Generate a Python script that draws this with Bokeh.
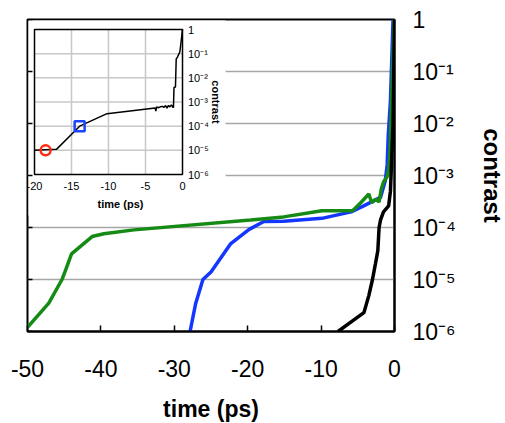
import numpy as np
from bokeh.plotting import figure
from bokeh.models import Range1d, LogScale, FixedTicker
from bokeh.core.properties import value
from bokeh.embed import file_html
from bokeh.resources import INLINE

# ---------------- data ----------------
green_t = [-50, -47.1, -45.3, -44.9, -44.0, -41.2, -39.6, -35.5, -19.6, -15.1, -9.9, -5.7,
           -4.6, -3.5, -3.1, -2.6, -2.1, -1.8, -1.5, -1.0, -0.8, -0.65, -0.05]
green_c = [1.2e-6, 3.5e-6, 1.0e-5, 1.4e-5, 3.1e-5, 6.7e-5, 7.6e-5, 9.0e-5, 1.4e-4, 1.6e-4, 2.1e-4, 2.1e-4,
           3.0e-4, 4.4e-4, 3.0e-4, 3.5e-4, 3.1e-4, 5.5e-4, 7.5e-4, 9.5e-4, 1.3e-3, 2.2e-3, 1.0]

blue_t = [-27.85, -27.1, -26.1, -25.0, -22.3, -19.8, -17.8, -15.1, -9.9, -5.9, -4.2, -1.9,
          -1.25, -1.0, -0.85, -0.55, -0.2]
blue_c = [1.0e-6, 3.4e-6, 1.0e-5, 1.4e-5, 4.9e-5, 9.2e-5, 1.3e-4, 1.32e-4, 1.5e-4, 2.0e-4, 2.6e-4, 3.8e-4,
          8.0e-4, 1.6e-3, 6.0e-3, 2.8e-2, 1.0]

black_t = [-7.7, -4.17, -3.5, -3.0, -2.6, -2.27, -2.1, -1.9, -1.5, -0.8, -0.55, -0.2, 0.0]
black_c = [1.0e-6, 2.3e-6, 4.9e-6, 1.0e-5, 2.0e-5, 3.6e-5, 1.0e-4, 1.4e-4, 2.0e-4, 2.6e-4, 5.0e-4, 1.0e-2, 1.0]

inset_t = [-20, -17.0, -13.9, -10.2, -3.7, -3.6, -3.5, -3.3, -3.0, -2.7, -2.5, -2.3, -2.1, -1.9,
           -1.7, -1.5, -1.3, -1.22, -1.15, -0.95, -0.85, -0.7, -0.35, 0.0]
inset_c = [1.0e-5, 1.12e-5, 1.0e-4, 3.3e-4, 5.6e-4, 4.2e-4, 6.3e-4, 5.8e-4, 6.3e-4, 6.6e-4, 6.0e-4, 7.1e-4,
           5.6e-4, 7.2e-4, 6.3e-4, 7.6e-4, 6.0e-4, 6.0e-4, 4.0e-3, 4.2e-3, 6.0e-2, 7.0e-2, 1.2e-1, 1.0]

red_mark_t, red_mark_c = [-18.5], [1.0e-5]
blue_mark_t, blue_mark_c = [-13.9], [1.0e-4]

x_ticks = [-50, -40, -30, -20, -10, 0]
x_tick_labels = ["-50", "-40", "-30", "-20", "-10", "0"]
y_ticks = [1e-6, 1e-5, 1e-4, 1e-3, 1e-2, 1e-1, 1.0]
y_tick_labels = ["10\u207b\u2076", "10\u207b\u2075", "10\u207b\u2074", "10\u207b\u00b3",
                 "10\u207b\u00b2", "10\u207b\u00b9", "1"]
inset_x_ticks = [-20, -15, -10, -5, 0]
inset_x_tick_labels = ["-20", "-15", "-10", "-5", "0"]

# ---------------- layout (pixels) ----------------
FW, FH = 367, 312
IN_L, IN_R, IN_T, IN_B = 7, 155, 10, 155
BG_R, BG_B = 198, 196
FONT = "Liberation Sans"

ix0, ix1 = inset_x_ticks[0], inset_x_ticks[-1]
dec0, dec1 = np.log10(y_ticks[0]), np.log10(y_ticks[-1])
kx = (IN_R - IN_L) / (ix1 - ix0)
ky = (IN_B - IN_T) / (dec1 - dec0)


def px_to_ix(px):
    return ix0 + (px - IN_L) / kx


def py_to_iy(py):
    return 10 ** (dec0 - (py - IN_B) / ky)


p = figure(frame_width=FW, frame_height=FH, x_range=Range1d(-50, 0), y_range=Range1d(1e-6, 1),
           y_axis_type="log", y_axis_location="right", output_backend="svg", toolbar_location=None,
           min_border_left=27, min_border_top=19, min_border_right=5, min_border_bottom=5)
p.background_fill_color = "white"
p.border_fill_color = "white"
p.outline_line_color = "black"
p.outline_line_width = 2

p.extra_x_ranges = {"ix": Range1d(px_to_ix(0), px_to_ix(FW))}
p.extra_y_ranges = {"iy": Range1d(py_to_iy(FH), py_to_iy(0))}
p.extra_y_scales = {"iy": LogScale()}

# grids
p.xgrid.visible = False
p.ygrid.ticker = FixedTicker(ticks=y_ticks)
p.ygrid.grid_line_color = "#a6a6a6"
p.ygrid.grid_line_width = 1.5

# bottom axis
xa = p.xaxis[0]
xa.ticker = FixedTicker(ticks=x_ticks)
xa.major_label_overrides = dict(zip(x_ticks, x_tick_labels))
xa.major_tick_in = 6
xa.major_tick_out = 0
xa.major_tick_line_width = 1.5
xa.minor_tick_in = 0
xa.minor_tick_out = 0
xa.axis_line_width = 2
xa.major_label_text_font = FONT
xa.major_label_text_font_size = "23px"
xa.major_label_text_color = "black"
xa.major_label_standoff = 28
xa.axis_label = "time (ps)"
xa.axis_label_text_font = FONT
xa.axis_label_text_font_style = "bold"
xa.axis_label_text_font_size = "23px"
xa.axis_label_text_color = "black"
xa.axis_label_standoff = 16

# right axis
ya = p.yaxis[0]
ya.ticker = FixedTicker(ticks=y_ticks)
ya.major_label_overrides = dict(zip(y_ticks, y_tick_labels))
ya.major_tick_in = 0
ya.major_tick_out = 0
ya.minor_tick_in = 0
ya.minor_tick_out = 0
ya.axis_line_width = 2
ya.major_label_text_font = FONT
ya.major_label_text_font_size = "23px"
ya.major_label_text_color = "black"
ya.major_label_standoff = 18
ya.axis_label = "contrast"
ya.axis_label_text_font = FONT
ya.axis_label_text_font_style = "bold"
ya.axis_label_text_font_size = "24px"
ya.axis_label_text_color = "black"
ya.axis_label_standoff = 20

# main curves
p.line(blue_t, blue_c, line_color="#1437ff", line_width=3.5)
p.line(green_t, green_c, line_color="#158a15", line_width=3.5)
p.line(black_t, black_c, line_color="black", line_width=3.5)

# ---------------- inset ----------------
R = dict(x_range_name="ix", y_range_name="iy")
p.quad(left=[px_to_ix(1)], right=[px_to_ix(BG_R)], top=[py_to_iy(1)], bottom=[py_to_iy(BG_B)],
       fill_color="white", line_color=None, **R)
vx = inset_x_ticks[1:-1]
p.segment(x0=vx, x1=vx, y0=[y_ticks[0]] * len(vx), y1=[y_ticks[-1]] * len(vx),
          line_color="#c8c8c8", line_width=1.5, **R)
hy = y_ticks[1:-1]
p.segment(x0=[ix0] * len(hy), x1=[ix1] * len(hy), y0=hy, y1=hy,
          line_color="#c8c8c8", line_width=1.5, **R)
p.quad(left=[ix0], right=[ix1], bottom=[y_ticks[0]], top=[y_ticks[-1]],
       fill_color=None, line_color="black", line_width=1.5, **R)
p.line(inset_t, inset_c, line_color="black", line_width=1.5, **R)
p.scatter(red_mark_t, red_mark_c, marker="circle", size=10, fill_color=None,
          line_color="#ff2a10", line_width=2.5, **R)
p.scatter(blue_mark_t, blue_mark_c, marker="square", size=10, fill_color=None,
          line_color="#1a44ff", line_width=2.5, **R)

# left-edge inward ticks of the main plot (half of each dash is clipped by the frame)
p.scatter(x=[-50] * len(y_ticks), y=y_ticks, marker="dash", size=10,
          line_color="black", line_width=1.5)

p.text(x=inset_x_ticks, y=[y_ticks[0]] * len(inset_x_ticks), text=inset_x_tick_labels,
       text_font=value(FONT), text_font_size="11px", text_align="center", text_baseline="top",
       y_offset=7, text_color="black", **R)
p.text(x=[ix1] * len(y_ticks), y=y_ticks, text=y_tick_labels,
       text_font=value(FONT), text_font_size="11px", text_align="left", text_baseline="middle",
       x_offset=5.5, text_color="black", **R)
p.text(x=[ix1], y=[1e-3], text=["contrast"], angle=-np.pi / 2,
       text_font=value(FONT), text_font_size="11px", text_font_style="bold",
       text_align="center", text_baseline="middle", x_offset=33, text_color="black", **R)
p.text(x=[(ix0 + ix1) / 2], y=[y_ticks[0]], text=["time (ps)"],
       text_font=value(FONT), text_font_size="11px", text_font_style="bold",
       text_align="center", text_baseline="middle", x_offset=12, y_offset=29, text_color="black", **R)

open("out.html", "w").write(file_html(p, INLINE))
